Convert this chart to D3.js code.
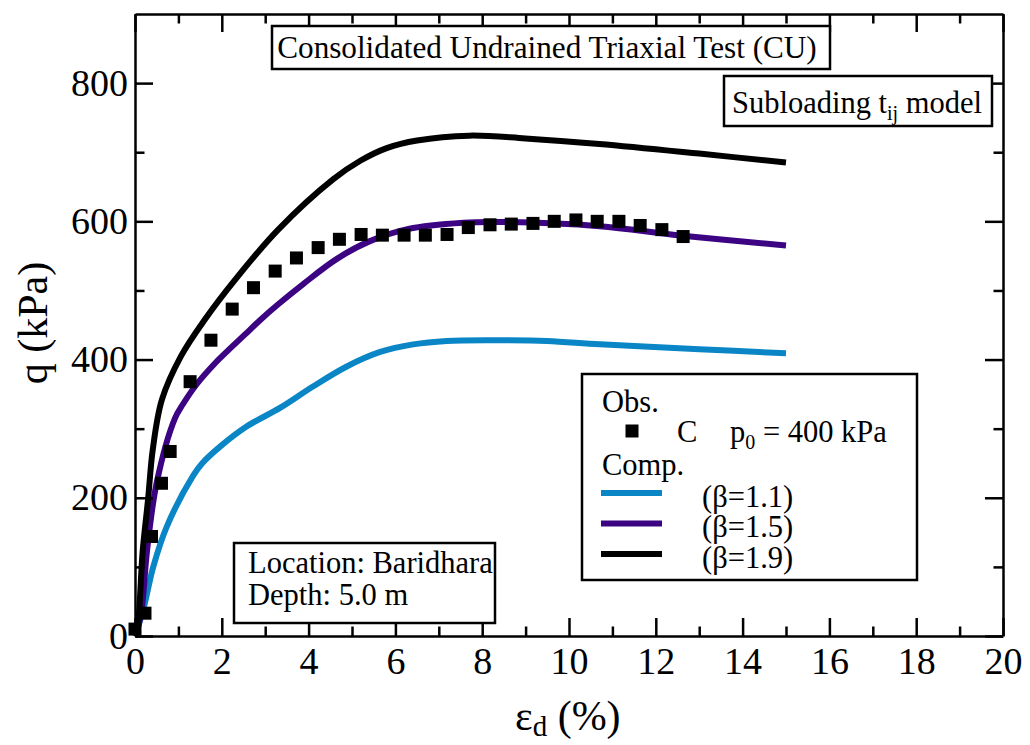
<!DOCTYPE html>
<html>
<head>
<meta charset="utf-8">
<script src="https://cdn.jsdelivr.net/npm/d3@7"></script>
<style>
  html, body { margin: 0; padding: 0; background: #fff; }
  svg { display: block; }
  text { font-family: "Liberation Serif", "Times New Roman", serif; fill: #000; }
</style>
</head>
<body>
<svg id="chart" width="1030" height="745"></svg>
<script>
// Computed curves (subloading t_ij model), q in kPa vs. deviator strain in %
const beta11X = [0, 0.19, 0.42, 0.73, 1.34, 1.55, 1.96, 2.57, 3.34, 4.1, 4.88, 5.65, 6.41, 7.18, 8.33, 9.49, 10.71, 13.0, 15.0];
const beta11Q = [0, 38, 100, 158, 232, 250, 274, 303, 330, 361, 390, 411, 422, 427, 428, 427, 422, 415, 409];

const beta15X = [0, 0.13, 0.28, 0.5, 0.92, 1.1, 1.43, 1.85, 2.14, 2.53, 2.88, 3.3, 3.89, 4.66, 5.4, 6.3, 7.56, 8.5, 10.7, 12.5, 15.0];
const beta15Q = [0, 28, 125, 222, 315, 335, 365, 395, 413, 436, 457, 480, 510, 546, 571, 589, 598, 599, 593, 580, 565];

const beta19X = [0, 0.04, 0.18, 0.3, 0.41, 0.62, 1.06, 1.61, 2.3, 3.3, 4.57, 5.2, 5.8, 6.5, 7.7, 9.0, 10.7, 13.0, 15.0];
const beta19Q = [0, 4, 125, 197, 270, 342, 405, 458, 515, 588, 661, 688, 706, 717, 724, 720, 712, 698, 685];

// Observed test results (sample C, p0 = 400 kPa)
const obsX = [0, 0.23, 0.38, 0.61, 0.81, 1.27, 1.75, 2.24, 2.73, 3.23, 3.72, 4.22, 4.71, 5.21, 5.70,
              6.20, 6.69, 7.19, 7.68, 8.18, 8.67, 9.17, 9.66, 10.16, 10.65, 11.15, 11.64, 12.14, 12.63];
const obsQ = [10, 33, 144, 221, 267, 368, 428, 473, 504, 528, 547, 562, 574, 581, 580,
              580, 580, 581, 591, 595, 596, 597, 600, 602, 600, 600, 594, 588, 578];

const xTicks = [0, 2, 4, 6, 8, 10, 12, 14, 16, 18, 20];
const xMinorTicks = [1, 3, 5, 7, 9, 11, 13, 15, 17, 19];
const yTicks = [0, 200, 400, 600, 800];
const yMinorTicks = [100, 300, 500, 700];

const seriesNames = ["(\u03b2=1.1)", "(\u03b2=1.5)", "(\u03b2=1.9)"];
const seriesColors = ["#0a85c5", "#3c0482", "#000000"];

const svg = d3.select("#chart");
const margin = { left: 135, top: 14, right: 27, bottom: 109 };
const W = 1030 - margin.left - margin.right;
const H = 745 - margin.top - margin.bottom;

const x = d3.scaleLinear().domain([0, 20]).range([0, W]);
const y = d3.scaleLinear().domain([0, 900]).range([H, 0]);

const g = svg.append("g").attr("transform", `translate(${margin.left},${margin.top})`);

// Curves
const line = d3.line().x(d => x(d[0])).y(d => y(d[1])).curve(d3.curveCatmullRom.alpha(0.5));
const series = [
  d3.zip(beta11X, beta11Q),
  d3.zip(beta15X, beta15Q),
  d3.zip(beta19X, beta19Q)
];
series.forEach((s, i) => {
  g.append("path").datum(s)
    .attr("d", line)
    .attr("fill", "none")
    .attr("stroke", seriesColors[i])
    .attr("stroke-width", 6)
    .attr("stroke-linejoin", "round");
});

// Observed points
const sq = 13;
g.selectAll("rect.obs").data(d3.zip(obsX, obsQ)).join("rect")
  .attr("class", "obs")
  .attr("x", d => x(d[0]) - sq / 2)
  .attr("y", d => y(d[1]) - sq / 2)
  .attr("width", sq).attr("height", sq)
  .attr("fill", "#000");

// Axes: ticks point into the plot on all four sides
function styleAxis(sel) {
  sel.select(".domain").attr("stroke", "#000").attr("stroke-width", 2.5);
  sel.selectAll(".tick line").attr("stroke", "#000").attr("stroke-width", 2.5);
  sel.selectAll(".tick text").attr("font-size", 38).attr("fill", "#000");
}
const majorLen = 18, minorLen = 9.5;

g.append("g").attr("transform", `translate(0,${H})`)
  .call(d3.axisBottom(x).tickValues(xTicks).tickSize(-majorLen).tickSizeOuter(0).tickPadding(11).tickFormat(d3.format("d")))
  .call(styleAxis);
g.append("g").attr("transform", `translate(0,${H})`)
  .call(d3.axisBottom(x).tickValues(xMinorTicks).tickSize(-minorLen).tickFormat(""))
  .call(styleAxis).call(s => s.select(".domain").remove());

g.append("g")
  .call(d3.axisTop(x).tickValues(xTicks).tickSize(-majorLen).tickSizeOuter(0).tickFormat(""))
  .call(styleAxis);
g.append("g")
  .call(d3.axisTop(x).tickValues(xMinorTicks).tickSize(-minorLen).tickFormat(""))
  .call(styleAxis).call(s => s.select(".domain").remove());

g.append("g")
  .call(d3.axisLeft(y).tickValues(yTicks).tickSize(-majorLen).tickSizeOuter(0).tickPadding(7).tickFormat(d3.format("d")))
  .call(styleAxis);
g.append("g")
  .call(d3.axisLeft(y).tickValues(yMinorTicks).tickSize(-minorLen).tickFormat(""))
  .call(styleAxis).call(s => s.select(".domain").remove());

g.append("g").attr("transform", `translate(${W},0)`)
  .call(d3.axisRight(y).tickValues(yTicks).tickSize(-majorLen).tickSizeOuter(0).tickFormat(""))
  .call(styleAxis);
g.append("g").attr("transform", `translate(${W},0)`)
  .call(d3.axisRight(y).tickValues(yMinorTicks).tickSize(-minorLen).tickFormat(""))
  .call(styleAxis).call(s => s.select(".domain").remove());

// Axis titles
svg.append("text")
  .attr("transform", "translate(47,323) rotate(-90)")
  .attr("text-anchor", "middle")
  .attr("font-size", 42)
  .text("q (kPa)");

const xt = svg.append("text")
  .attr("x", 515).attr("y", 730)
  .attr("font-size", 42);
xt.append("tspan").text("\u03b5");
xt.append("tspan").attr("font-size", 29).attr("dy", 6).text("d");
xt.append("tspan").attr("dy", -6).text(" (%)");

// Annotation boxes
function box(x0, y0, w, h) {
  svg.append("rect")
    .attr("x", x0).attr("y", y0).attr("width", w).attr("height", h)
    .attr("fill", "#fff").attr("stroke", "#000").attr("stroke-width", 2.5);
}
const fs = 30.5;

box(272, 26, 558, 43);
svg.append("text").attr("x", 547).attr("y", 58).attr("text-anchor", "middle")
  .attr("font-size", 31.2).text("Consolidated Undrained Triaxial Test (CU)");

box(724, 76, 268, 50);
const st = svg.append("text").attr("x", 732).attr("y", 113).attr("font-size", fs);
st.append("tspan").text("Subloading t");
st.append("tspan").attr("font-size", 20).attr("dy", 7).text("ij");
st.append("tspan").attr("dy", -7).text(" model");

box(234, 543, 261, 80);
svg.append("text").attr("x", 248).attr("y", 573).attr("font-size", fs).text("Location: Baridhara");
svg.append("text").attr("x", 248).attr("y", 605).attr("font-size", fs).text("Depth: 5.0 m");

// Legend
box(582, 374, 335, 206);
svg.append("text").attr("x", 602).attr("y", 412).attr("font-size", fs).text("Obs.");
svg.append("rect").attr("x", 632 - sq / 2).attr("y", 431 - sq / 2).attr("width", sq).attr("height", sq).attr("fill", "#000");
svg.append("text").attr("x", 677).attr("y", 442).attr("font-size", fs).text("C");
const pt = svg.append("text").attr("x", 730).attr("y", 442).attr("font-size", fs);
pt.append("tspan").text("p");
pt.append("tspan").attr("font-size", 20).attr("dy", 7).text("0");
pt.append("tspan").attr("dy", -7).text(" = 400 kPa");
svg.append("text").attr("x", 602).attr("y", 475).attr("font-size", fs).text("Comp.");

seriesNames.forEach((name, i) => {
  const ly = 493 + i * 30.5;
  svg.append("line")
    .attr("x1", 601).attr("x2", 662).attr("y1", ly).attr("y2", ly)
    .attr("stroke", seriesColors[i]).attr("stroke-width", 6);
  svg.append("text").attr("x", 702).attr("y", ly + 13.5).attr("font-size", fs).text(name);
});
</script>
</body>
</html>
